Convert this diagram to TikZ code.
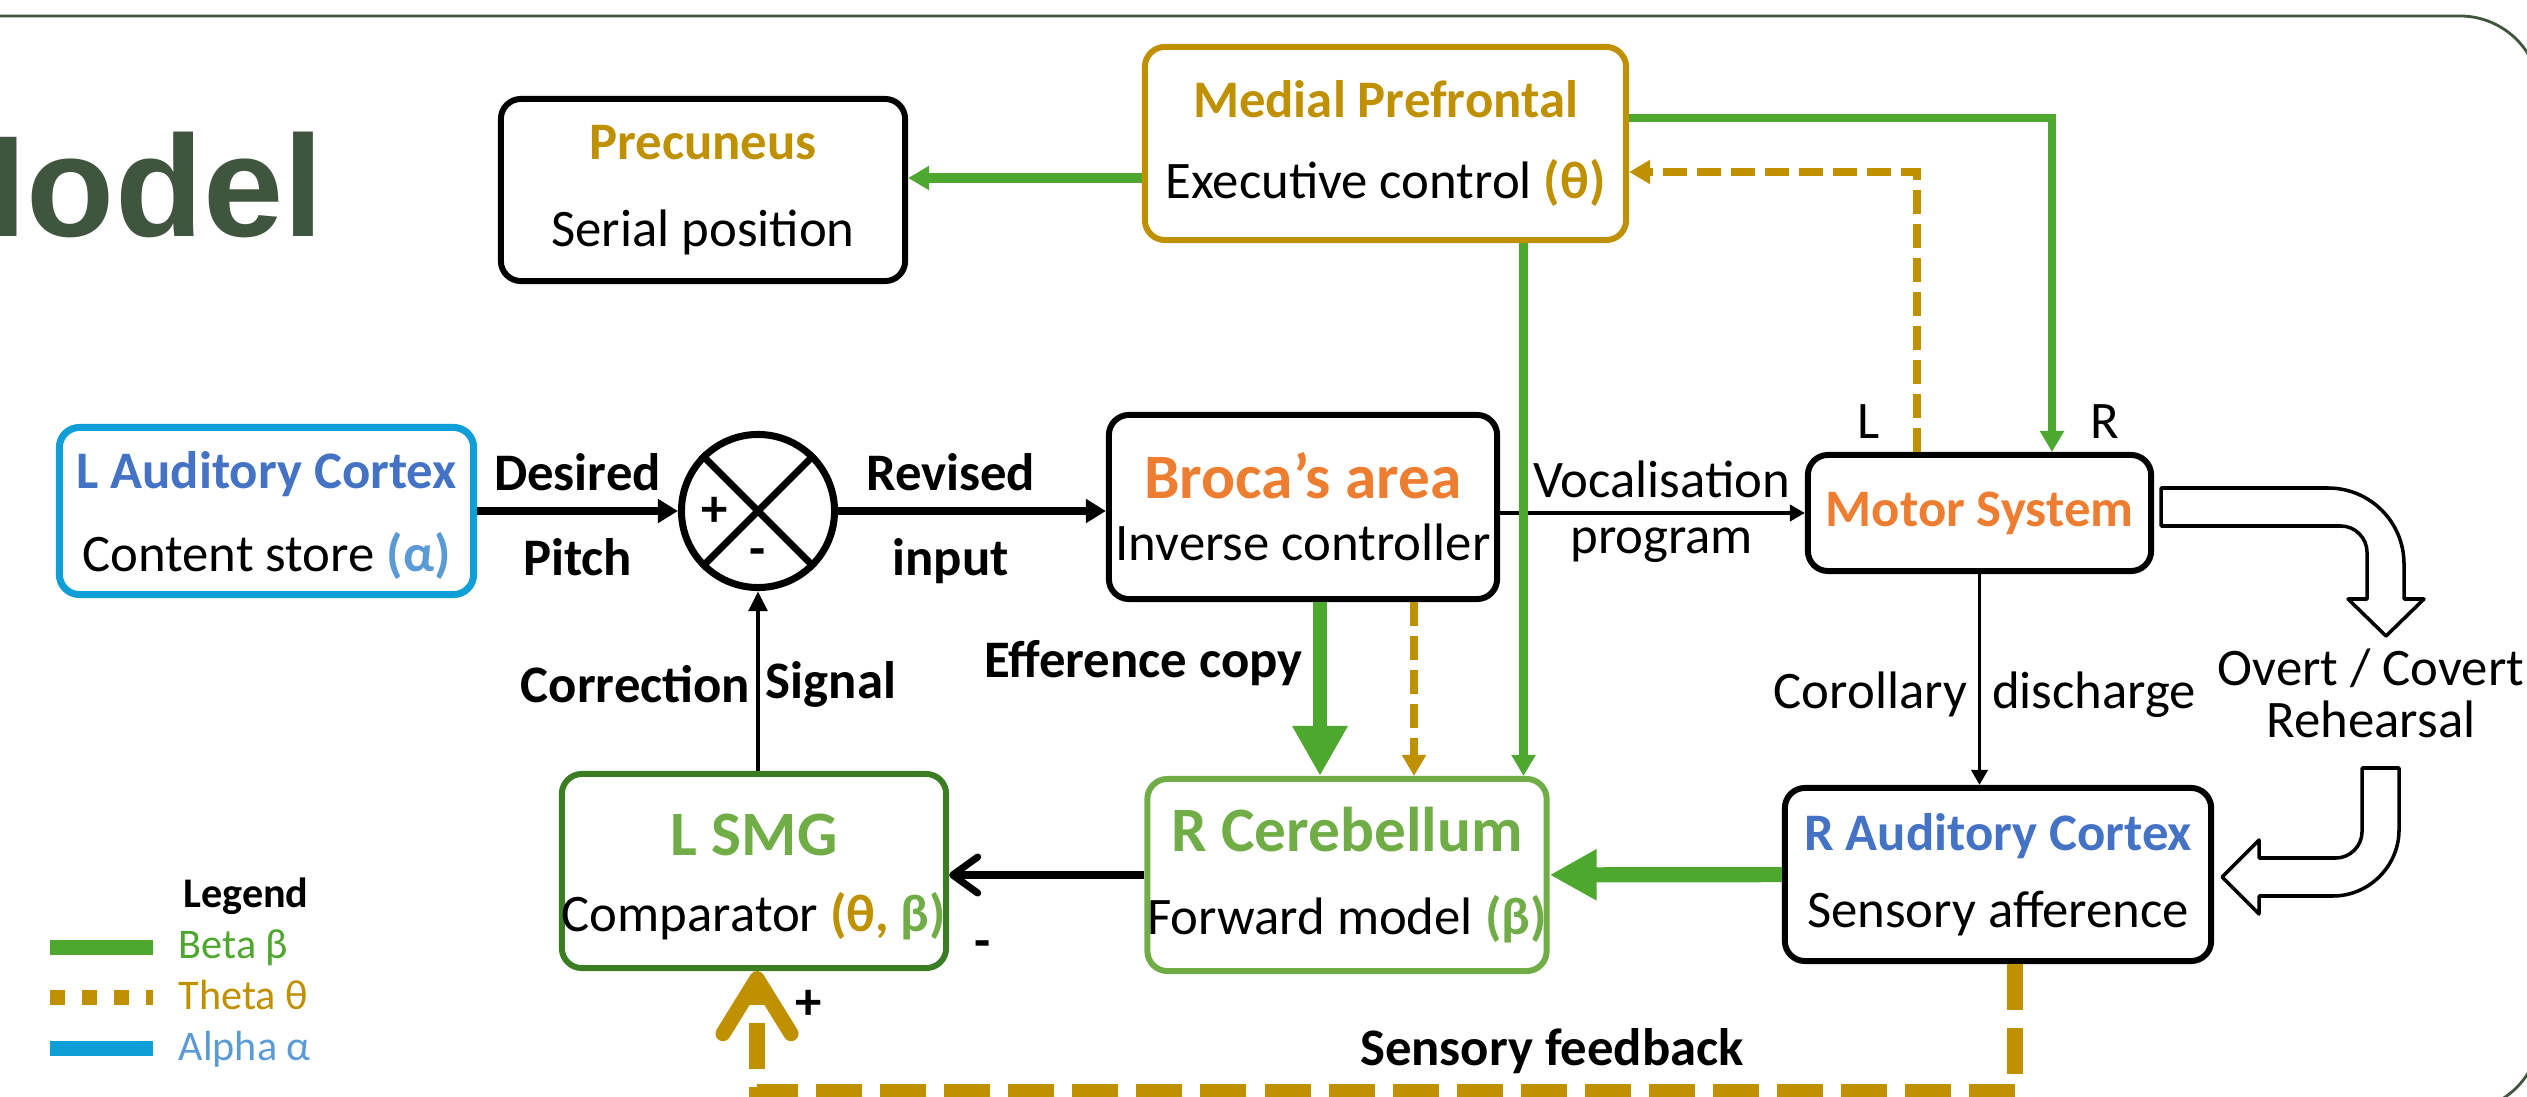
\documentclass[tikz,border=0pt]{standalone}
\usepackage{fontspec}
\setmainfont{Carlito}
\newfontfamily\headfont{Liberation Sans}
\usetikzlibrary{positioning, calc, arrows.meta}

\definecolor{thetagold}{HTML}{BF9000}
\definecolor{betagreen}{HTML}{4EA72E}
\definecolor{alphabar}{HTML}{0F9ED5}
\definecolor{alphatext}{HTML}{5B9BD5}
\definecolor{areablue}{HTML}{4472C4}
\definecolor{areaorange}{HTML}{ED7D31}
\definecolor{cerebgreen}{HTML}{70AD47}
\definecolor{smggreen}{HTML}{3B7D23}
\definecolor{slidegreen}{HTML}{3F553E}

\newcommand{\txtsize}{\fontsize{15}{18}\selectfont}
\newcommand{\bigsize}{\fontsize{18}{18}\selectfont}
\newcommand{\legsize}{\fontsize{12}{14}\selectfont}

\begin{document}
\begin{tikzpicture}[x=0.01cm, y=-0.01cm,
    area/.style={draw, line width=1.7pt, rounded corners=0.2cm, align=center, font=\txtsize, inner sep=0pt},
    lbl/.style={font=\txtsize, text=black, inner sep=3pt},
    lblb/.style={font=\txtsize\bfseries, text=black, inner sep=3pt},
    sig/.style={line width=2pt, -{Triangle[length=0.2cm, width=0.23cm]}},
    sigthin/.style={line width=1.4pt, -{Triangle[length=0.15cm, width=0.16cm]}},
    betathick/.style={betagreen, line width=4.3pt, -{Triangle[length=0.47cm, width=0.48cm]}},
    betathin/.style={betagreen, line width=2.3pt, -{Triangle[length=0.21cm, width=0.23cm]}},
    thetathin/.style={thetagold, line width=2.2pt, dash pattern=on 0.24cm off 0.1cm, -{Triangle[length=0.21cm, width=0.23cm]}},
    thetathick/.style={thetagold, line width=4.3pt, dash pattern=on 0.46cm off 0.18cm, -{Straight Barb[length=0.55cm, width=0.68cm, round]}},
    bigarrow/.style={draw=black, fill=white, line width=1pt, line join=round}
]
\useasboundingbox (0,0) rectangle (2527,1097);
\clip (0,0) rectangle (2527,1097);

% slide frame and heading
\draw[slidegreen, line width=0.8pt, rounded corners=0.8cm] (-100,16) rectangle (2540,1111);
\node[anchor=base east, inner sep=0pt, text=slidegreen, font=\headfont\bfseries\fontsize{41}{41}\selectfont] (heading) at (324,237) {Model};

% brain areas
\node[area, minimum width=4.04cm, minimum height=1.82cm] (precun) at (703,190)
    {\textbf{\color{thetagold}Precuneus}\\[6.6pt] Serial position};
\node[area, draw=thetagold, minimum width=4.81cm, minimum height=1.93cm] (medial) at (1385.5,143.5)
    {\textbf{\color{thetagold}Medial Prefrontal}\\[4.8pt] Executive control \textbf{\color{thetagold}(θ)}};
\node[area, draw=alphabar, line width=2pt, minimum width=4.14cm, minimum height=1.67cm] (laud) at (266.5,511)
    {\rule{0pt}{13pt}\textbf{\color{areablue}L Auditory Cortex}\\[5.5pt] Content store \textbf{\color{alphatext}(α)}};
\node[area, minimum width=3.88cm, minimum height=1.84cm] (broca) at (1303,507)
    {{\bigsize\bfseries\color{areaorange}Broca’s area}\\[-0.4pt] Inverse controller};
\node[area, minimum width=3.43cm, minimum height=1.16cm] (motor) at (1979.5,513)
    {\textbf{\color{areaorange}Motor System}};
\node[area, minimum width=4.26cm, minimum height=1.73cm] (raud) at (1998,874.5)
    {\textbf{\color{areablue}R Auditory Cortex}\\[3.9pt] Sensory afference};
\node[area, draw=cerebgreen, minimum width=3.90cm, minimum height=1.92cm] (rcereb) at (1347,875)
    {{\bigsize\bfseries\color{cerebgreen}R Cerebellum}\\[5.6pt] Forward model \textbf{\color{cerebgreen}(β)}};
\node[area, draw=smggreen, minimum width=3.80cm, minimum height=1.94cm] (lsmg) at (754,871)
    {\rule{0pt}{15pt}{\bigsize\bfseries\color{cerebgreen}L SMG}\\[3.6pt] Comparator \textbf{\color{thetagold}(θ, }\textbf{\color{cerebgreen}β)}};

% summing junction
\node[draw, circle, line width=2pt, minimum size=1.53cm, inner sep=0pt] (sum) at (758,511) {};
\draw[line width=2pt] (sum.north west) -- (sum.south east) (sum.north east) -- (sum.south west);
\node[lblb] (plus) at ($(sum)+(-43,1)$) {+};
\node[lblb] (minus) at ($(sum)+(0,47)$) {-};

% signal path
\draw[sig] (laud) -- node[lblb, above=0.06cm] {Desired} node[lblb, below=0.13cm] {Pitch} (sum);
\draw[sig] (sum) -- node[lblb, above=0.06cm, pos=0.42] {Revised} node[lblb, below=0.13cm, pos=0.42] {input} (sum -| broca.west);
\draw[sigthin] (broca.east |- motor) -- node[lbl, above, inner sep=3.5pt, pos=0.53] {Vocalisation} node[lbl, below, inner sep=3.5pt, pos=0.53] {program} (motor);
\draw[sigthin, line width=1.1pt] (motor) -- node[lbl, left, pos=0.57] {Corollary} node[lbl, right, pos=0.57] {discharge} (motor |- raud.north);
\draw[sigthin, -{Triangle[length=0.2cm, width=0.18cm]}] (sum.south |- lsmg.north) -- node[lblb, left, pos=0.48, inner sep=1.5pt] {Correction} node[lblb, right, pos=0.48, inner sep=1.5pt] {Signal} (sum.south);
\draw[line width=2pt, -{Straight Barb[length=0.25cm, width=0.36cm, round]}] (rcereb.west) -- node[lblb, pos=0.83, below=0.52cm] {-} (rcereb.west -| lsmg.east);

% beta connections
\coordinate (mp) at ($(medial.west)+(0,34.5)$);
\draw[betathin, line width=2.6pt] (mp) -- (mp -| precun.east);
\coordinate (mr) at ($(medial.east)+(0,-25.5)$);
\coordinate (mo) at ($(motor.north)+(72.5,0)$);
\draw[betathin] (mr) -| node[lbl, right=0.24cm, pos=0.955] {R} (mo);
\coordinate (md) at ($(medial.south)+(138,0)$);
\draw[betathin] (md) -- (md |- rcereb.north);
\coordinate (ef) at ($(broca.south)+(17,0)$);
\draw[betathick, line width=4pt, -{Triangle[length=0.5cm, width=0.52cm]}] (ef) -- node[lblb, left, pos=0.35] {Efference copy} (ef |- rcereb.north);
\draw[betathick] (raud) -- (rcereb);

% theta connections
\coordinate (bt) at ($(broca.south)+(111,0)$);
\draw[thetathin] (bt) -- (bt |- rcereb.north);
\coordinate (ml) at ($(motor.north)+(-62.5,0)$);
\coordinate (mt) at ($(medial.east)+(0,28.5)$);
\draw[thetathin] (ml) |- node[lbl, left=0.23cm, pos=0.055] {L} (mt);
\coordinate (fa) at ($(raud.south)+(17,0)$);
\coordinate (fs) at ($(lsmg.south)+(3,0)$);
\draw[thetathick] (fa) -- ($(fa)+(0,128)$) -| node[lblb, above, pos=0.184] {Sensory feedback} node[lblb, right=0.2cm, pos=0.86] {+} (fs);

% rehearsal loop
\draw[bigarrow] (2161,488) -- (2328,488) .. controls (2370,488) and (2404,522) .. (2404,564) -- (2404,599) -- (2424,599) -- (2386,636) -- (2348,599) -- (2367,599) -- (2367,552) .. controls (2367,538) and (2355,526) .. (2341,526) -- (2161,526) -- cycle;
\node[lbl, align=center] (rehearsal) at (2371,693) {Overt / Covert\\[-3.2pt]Rehearsal};
\draw[bigarrow] (2362,768) -- (2399,768) -- (2399,830) .. controls (2399,866) and (2369,896) .. (2333,896) -- (2259,896) -- (2259,914) -- (2222,877) -- (2259,840) -- (2259,858) -- (2336,858) .. controls (2350,858) and (2362,846) .. (2362,832) -- cycle;

% legend
\node[font=\legsize\bfseries, anchor=base, inner sep=0pt] (legend) at (246,907) {Legend};
\node[font=\legsize, text=betagreen, anchor=base west, inner sep=0pt] (legbeta) at (178,958) {Beta β};
\node[font=\legsize, text=thetagold, anchor=base west, inner sep=0pt] (legtheta) at (178,1009) {Theta θ};
\node[font=\legsize, text=alphatext, anchor=base west, inner sep=0pt] (legalpha) at (178,1060) {Alpha α};
\draw[betagreen, line width=4.3pt] ($(legbeta.west)+(-128,0)$) -- ++(103,0);
\draw[thetagold, line width=4.3pt, dash pattern=on 0.15cm off 0.17cm] ($(legtheta.west)+(-128,3)$) -- ++(103,0);
\draw[alphabar, line width=4.3pt] ($(legalpha.west)+(-128,0)$) -- ++(103,0);
\end{tikzpicture}
\end{document}
